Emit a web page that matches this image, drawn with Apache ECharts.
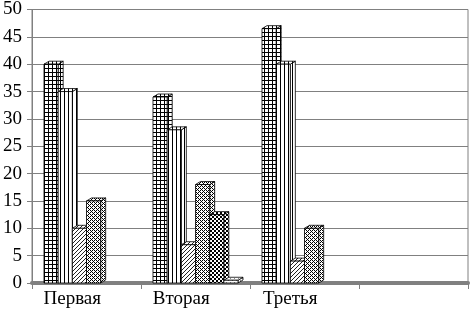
<!DOCTYPE html>
<html>
<head>
<meta charset="utf-8">
<script src="https://cdn.jsdelivr.net/npm/echarts@6/dist/echarts.min.js"></script>
<style>
    html, body { margin: 0; padding: 0; background: #fff; }
    #main { width: 471px; height: 314px; }
    #fontwarm { position: absolute; left: -1000px; top: 0; font: 19px "Liberation Serif"; }
</style>
</head>
<body>
<span id="fontwarm">Первая Вторая Третья 0123456789</span>
<div id="main"></div>
<script>
// данные
var categories = ['Первая', 'Вторая', 'Третья', ''];
var s1 = [40, 34, 46.5, 0];
var s2 = [35, 28, 40, 0];
var s3 = [10, 7, 4, 0];
var s4 = [15, 18, 10, 0];
var s5 = [0, 12.5, 0, 0];
var s6 = [0, 0.5, 0, 0];
var allSeries = [s1, s2, s3, s4, s5, s6];

// штриховки
function makePattern(size, draw) {
    var c = document.createElement('canvas');
    c.width = size; c.height = size;
    var ctx = c.getContext('2d');
    ctx.fillStyle = '#fff';
    ctx.fillRect(0, 0, size, size);
    ctx.fillStyle = '#000';
    draw(ctx);
    return { image: c, repeat: 'repeat' };
}
var patterns = [
    makePattern(4, function (ctx) { ctx.fillRect(0, 0, 4, 1); ctx.fillRect(0, 0, 1, 4); }),
    makePattern(4, function (ctx) { ctx.fillRect(0, 0, 1, 4); }),
    makePattern(4, function (ctx) {
        ctx.fillStyle = '#222';
        ctx.fillRect(3, 0, 1, 1); ctx.fillRect(2, 1, 1, 1); ctx.fillRect(1, 2, 1, 1); ctx.fillRect(0, 3, 1, 1);
    }),
    makePattern(4, function (ctx) {
        ctx.fillRect(0, 0, 1, 1); ctx.fillRect(2, 0, 1, 1); ctx.fillRect(1, 1, 1, 1);
        ctx.fillRect(0, 2, 1, 1); ctx.fillRect(3, 3, 1, 1); ctx.fillRect(2, 2, 1, 1);
    }),
    makePattern(4, function (ctx) { ctx.fillRect(0, 0, 2, 2); ctx.fillRect(2, 2, 2, 2); }),
    makePattern(4, function (ctx) { ctx.fillStyle = '#888'; ctx.fillRect(0, 0, 1, 1); ctx.fillRect(2, 2, 1, 1); })
];

// объёмный столбик
function renderBar(idx) {
    return function (params, api) {
        var v = api.value(1);
        if (!v) return null;
        var band = api.size([1, 0])[0];
        var base = api.coord([api.value(0), 0]);
        var top = api.coord([api.value(0), v]);
        var w = band * 0.13;
        var x0 = base[0] - band / 2 + band * 0.11 + idx * w;
        var y0 = base[1], y1 = top[1];
        var dx = 5, dy = -3;
        var st = { fill: patterns[idx], stroke: '#000', lineWidth: 0.8 };
        return {
            type: 'group',
            children: [
                { type: 'polygon', shape: { points: [[x0 + w, y0], [x0 + w + dx, y0 + dy], [x0 + w + dx, y1 + dy], [x0 + w, y1]] }, style: st },
                { type: 'polygon', shape: { points: [[x0, y1], [x0 + dx, y1 + dy], [x0 + w + dx, y1 + dy], [x0 + w, y1]] }, style: st },
                { type: 'rect', shape: { x: x0, y: y1, width: w, height: y0 - y1 }, style: st }
            ]
        };
    };
}

var myChart = echarts.init(document.getElementById('main'));
var font = 'Liberation Serif';
var options = {
    animation: false,
    grid: {
        left: 32, right: 3, top: 8, bottom: 31,
        show: true, borderColor: '#808080', borderWidth: 1
    },
    // невидимый текст, чтобы шрифт был подхвачен холстом
    graphic: [{
        type: 'text', left: 0, top: 0, silent: true,
        style: { text: 'Первая 0', font: '19px "Liberation Serif"', opacity: 0 }
    }],
    xAxis: {
        type: 'category',
        data: categories,
        axisLine: { lineStyle: { color: '#808080', width: 4 } },
        axisTick: { show: true, length: 6, lineStyle: { color: '#808080', width: 1 } },
        axisLabel: {
            interval: 0,
            color: '#000', fontFamily: font, fontSize: 19, margin: 7,
            // подписи сдвинуты влево, как в объёмной диаграмме
            formatter: function (v) { return v ? v + '      ' : ''; }
        }
    },
    yAxis: {
        type: 'value',
        min: 0, max: 50, interval: 5,
        axisLine: { show: true, lineStyle: { color: '#808080' } },
        axisTick: { show: true, length: 5, lineStyle: { color: '#808080' } },
        axisLabel: { color: '#000', fontFamily: font, fontSize: 19, margin: 10 },
        splitLine: { lineStyle: { color: '#808080', width: 1 } }
    },
    series: allSeries.map(function (arr, i) {
        return {
            type: 'custom',
            renderItem: renderBar(i),
            encode: { x: 0, y: 1 },
            data: arr.map(function (v, j) { return [j, v]; }),
            z: 2 + i
        };
    })
};
myChart.setOption(options, true);
// перерисовать, когда шрифт готов
if (document.fonts && document.fonts.ready) {
    document.fonts.ready.then(function () { myChart.setOption(options, true); });
}
setTimeout(function () { myChart.setOption(options, true); }, 300);
</script>
</body>
</html>
